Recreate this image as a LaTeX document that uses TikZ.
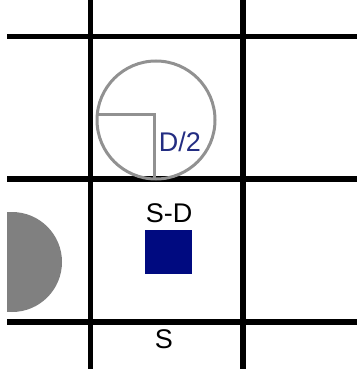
\documentclass[tikz,border=0pt]{standalone}
\usepackage{fontspec}
\setmainfont{Liberation Sans}
\definecolor{gridblack}{RGB}{0,0,0}
\definecolor{ringgray}{RGB}{145,145,145}
\definecolor{discgray}{RGB}{128,128,128}
\definecolor{navyfill}{RGB}{0,10,128}
\definecolor{labelblue}{RGB}{35,45,130}
\tikzset{
  gridline/.style={draw=gridblack,line width=5.5pt},
  ringline/.style={draw=ringgray,line width=3pt},
  lbl/.style={inner sep=0pt,font=\fontsize{27}{30}\selectfont}
}
\begin{document}
\begin{tikzpicture}[x=1pt,y=-1pt]
\useasboundingbox (0,0) rectangle (357,369);
% gray disc clipped at left margin
\begin{scope}
\clip (7,0) rectangle (357,369);
\fill[discgray] (12,262) circle[radius=50];
\end{scope}
% grid
\draw[gridline] (7,36.5) -- (357,36.5);
\draw[gridline] (7,179) -- (357,179);
\draw[gridline] (7,322) -- (357,322);
\draw[gridline] (90.5,0) -- (90.5,369);
\draw[gridline] (243,0) -- (243,369);
% ring and radius
\draw[ringline] (156,120) circle[radius=59];
\draw[ringline] (97.5,114) -- (154,114) -- (154,178);
% square
\fill[navyfill] (145,230) rectangle (192,274);
% labels
\node[lbl,text=labelblue] (d2) at (180,142) {D/2};
\node[lbl] (sd) at (169,213) {S-D};
\node[lbl] (s) at (164,339) {S};
\end{tikzpicture}
\end{document}
